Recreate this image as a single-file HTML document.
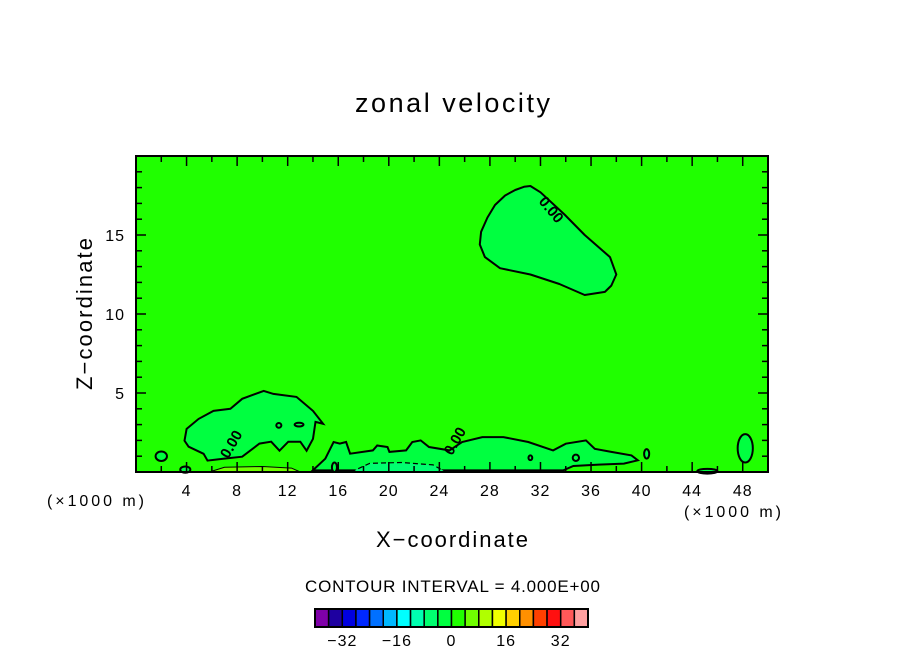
<!DOCTYPE html>
<html><head><meta charset="utf-8"><style>
body{margin:0;background:#fff;}
text{font-family:"Liberation Sans","DejaVu Sans",sans-serif;fill:#000;}
</style></head><body>
<svg id="chart" width="904" height="654" viewBox="0 0 904 654" xmlns="http://www.w3.org/2000/svg">
<text x="355" y="112" font-size="27" textLength="195" lengthAdjust="spacing">zonal velocity</text>
<g id="plot"></g>
<text x="376" y="547" font-size="22" textLength="152" lengthAdjust="spacing">X−coordinate</text>
<text x="47" y="506" font-size="16" textLength="97" lengthAdjust="spacing">(×1000 m)</text>
<text x="684" y="517" font-size="16" textLength="97" lengthAdjust="spacing">(×1000 m)</text>
<text transform="translate(92,390) rotate(-90)" font-size="22" textLength="152" lengthAdjust="spacing">Z−coordinate</text>
<text x="305" y="592" font-size="17" textLength="295" lengthAdjust="spacing">CONTOUR INTERVAL = 4.000E+00</text>
<g id="cbar"></g>
</svg>
<script>
const xTicks=[4,8,12,16,20,24,28,32,36,40,44,48];
const yTicks=[5,10,15];
const xDomain=[0,50], yDomain=[0,20];
const cbarLevels=[-40,-36,-32,-28,-24,-20,-16,-12,-8,-4,0,4,8,12,16,20,24,28,32,36,40];
const cbarColors=["#7f00a8","#1e00a0","#0000e0","#0028ff","#0070ff","#00b8ff","#00ffff","#00ffb0","#00ff70","#00ff40","#20ff00","#70ff00","#b0ff00","#f0ff00","#ffd000","#ff9000","#ff4000","#ff1010","#ff5858","#ffa0a0"];
const cbarLabels=[-32,-16,0,16,32];
const upperX=[27.2,27.3,27.8,28.4,29.2,30.0,30.7,31.2,32.0,33.9,35.5,37.5,38.0,37.6,37.1,35.5,33.5,31.2,28.8,27.6];
const upperY=[14.4,15.2,16.1,16.9,17.5,17.85,18.05,18.1,17.7,16.3,15.0,13.6,12.5,11.8,11.4,11.2,11.9,12.5,12.9,13.6];
const leftX=[3.84,4.0,4.95,6.13,7.47,8.4,10.1,10.87,12.7,14.0,14.8,14.2,14.0,13.5,13.0,12.05,11.35,10.7,9.76,8.4,6.9,5.66,5.35,4.16];
const leftY=[1.98,2.73,3.36,3.87,4.0,4.63,5.13,4.94,4.75,3.87,3.05,3.17,2.1,1.35,1.92,1.92,1.35,1.92,1.8,0.97,0.84,0.72,1.15,1.6];
const bandX=[13.99,14.98,15.63,16.12,16.62,16.94,18.74,19.08,19.9,20.05,21.37,21.86,22.52,23.18,24.8,25.8,27.4,29.07,31.04,33.0,34.0,35.6,36.3,37.6,39.2,39.7,38.6,36.6,34.6,33.8];
const bandY=[0.1,0.84,1.9,1.8,1.9,1.16,1.37,1.68,1.58,1.27,1.37,1.9,2.0,1.58,1.37,1.9,2.21,2.21,1.9,1.37,1.79,2.0,1.47,1.27,1.05,0.74,0.53,0.47,0.38,0.1];
const pocketX=[17.0,18.5,21,23.5,24.5];
const pocketY=[0,0.55,0.6,0.45,0];
const warmX=[5.8,7,10,12.3,13];
const warmY=[0,0.3,0.35,0.25,0];
const L=136,R=768,T=156,B=472;
const sx=v=>L+(v-xDomain[0])/(xDomain[1]-xDomain[0])*(R-L);
const sy=v=>B-(v-yDomain[0])/(yDomain[1]-yDomain[0])*(B-T);
const NS="http://www.w3.org/2000/svg";
const plot=document.getElementById('plot');
function mk(tag,attrs,parent){const e=document.createElementNS(NS,tag);for(const k in attrs)e.setAttribute(k,attrs[k]);parent.appendChild(e);return e;}
const bg=mk('rect',{x:L,y:T,width:R-L,height:B-T,fill:"#20ff00"},plot);


function pathOf(xs,ys,close){return xs.map((x,i)=>(i?'L':'M')+sx(x).toFixed(1)+' '+sy(ys[i]).toFixed(1)).join(' ')+(close?' Z':'');}
const c1=mk('path',{d:pathOf(upperX,upperY,true),fill:"#00ff40",stroke:"#000","stroke-width":2,"stroke-linejoin":"round"},plot);


const c2=mk('path',{d:pathOf(leftX,leftY,true),fill:"#00ff40",stroke:"#000","stroke-width":2},plot);


const c3=mk('path',{d:pathOf(bandX,bandY,true),fill:"#00ff40",stroke:"#000","stroke-width":2},plot);


const c4=mk('path',{d:pathOf(pocketX,pocketY,false),fill:"#00ff70",stroke:"#000","stroke-width":1.2,"stroke-dasharray":"5 3"},plot);


const c5=mk('path',{d:pathOf(warmX,warmY,false),fill:"#70ff00",stroke:"#000","stroke-width":1},plot);


const smalls=[[2.0,1.0,0.45,0.3],[48.2,1.5,0.6,0.9],[3.9,0.15,0.4,0.2],[45.2,0.05,0.8,0.15],[40.4,1.15,0.2,0.3],[15.7,0.3,0.2,0.3],[11.3,2.95,0.2,0.15],[12.9,3.0,0.35,0.12],[34.8,0.9,0.25,0.2],[31.2,0.9,0.15,0.15]];
smalls.forEach(s=>{const e=mk('ellipse',{cx:sx(s[0]),cy:sy(s[1]),rx:s[2]*(R-L)/50,ry:s[3]*(B-T)/20,fill:"#00ff40",stroke:"#000","stroke-width":2},plot);

});
const labs=[[31.8,17.1,50],[7.3,0.8,-60],[25.0,1.0,-60]];
labs.forEach(l=>{const t=mk('text',{x:sx(l[0]),y:sy(l[1]),"font-size":15,"font-weight":"bold",transform:`rotate(${l[2]} ${sx(l[0])} ${sy(l[1])})`},plot);t.textContent="0.00";

});
const frame=mk('rect',{x:L,y:T,width:R-L,height:B-T,fill:"none",stroke:"#000","stroke-width":2},plot);


for(let v=2;v<50;v+=2){const maj=xTicks.includes(v);const len=maj?10:6;
const t1=mk('line',{x1:sx(v),x2:sx(v),y1:B,y2:B-len,stroke:"#000","stroke-width":1.5},plot);


const t2=mk('line',{x1:sx(v),x2:sx(v),y1:T,y2:T+len,stroke:"#000","stroke-width":1.5},plot);

}
xTicks.forEach(v=>{const t=mk('text',{x:sx(v),y:496,"font-size":16,"text-anchor":"middle","letter-spacing":"1"},plot);t.textContent=v;

});
for(let v=1;v<20;v++){const maj=yTicks.includes(v);const len=maj?10:6;
const t1=mk('line',{x1:L,x2:L+len,y1:sy(v),y2:sy(v),stroke:"#000","stroke-width":1.5},plot);


const t2=mk('line',{x1:R,x2:R-len,y1:sy(v),y2:sy(v),stroke:"#000","stroke-width":1.5},plot);

}
yTicks.forEach(v=>{const t=mk('text',{x:125,y:sy(v)+6,"font-size":16,"text-anchor":"end","letter-spacing":"1"},plot);t.textContent=v;

});
const cb=document.getElementById('cbar');
const cx0=315,cx1=588,cy=609,ch=18;
const cs=v=>cx0+(v-cbarLevels[0])/(cbarLevels[cbarLevels.length-1]-cbarLevels[0])*(cx1-cx0);
cbarColors.forEach((c,i)=>{const r=mk('rect',{x:cs(cbarLevels[i]),y:cy,width:cs(cbarLevels[i+1])-cs(cbarLevels[i]),height:ch,fill:c,stroke:"#000","stroke-width":1.5},cb);

});
const cbf=mk('rect',{x:cx0,y:cy,width:cx1-cx0,height:ch,fill:"none",stroke:"#000","stroke-width":2},cb);


cbarLabels.forEach(v=>{const t=mk('text',{x:cs(v),y:646,"font-size":16,"text-anchor":"middle","letter-spacing":"1"},cb);t.textContent=(v<0?'−':'')+Math.abs(v);

});
</script>
</body></html>
